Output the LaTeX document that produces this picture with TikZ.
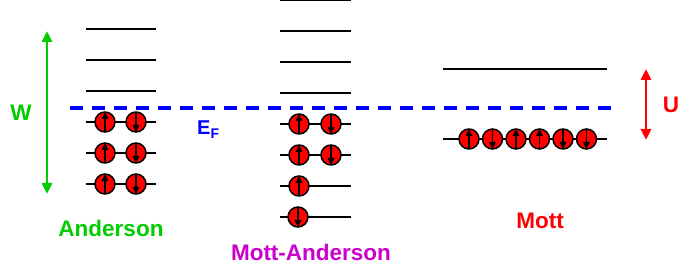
\documentclass[tikz,border=0pt]{standalone}
\usepackage{fontspec}
\setmainfont{Liberation Sans}
\usetikzlibrary{arrows.meta}
\definecolor{agreen}{RGB}{0,204,0}
\definecolor{amag}{RGB}{204,0,204}
\definecolor{ablue}{RGB}{0,0,255}
\definecolor{ared}{RGB}{255,0,0}
\tikzset{
  lvline/.style={line width=2pt, black},
  elec/.style={circle, draw=black, line width=1.5pt, fill=ared, minimum size=20pt, inner sep=0pt},
  lbl/.style={font=\fontsize{22.5}{26}\selectfont\bfseries, inner sep=0pt},
  fermi/.style={ablue, line width=3.3pt, dash pattern=on 13pt off 9pt},
  spanarrow/.style={line width=2.8pt, {Triangle[length=11pt,width=10pt]}-{Triangle[length=11pt,width=10pt]}},
  spinarr/.style={line width=1.6pt, -{Triangle[length=7pt,width=6.5pt]}}
}
\newcommand{\up}[2]{\node[elec] (#1) at #2 {};
  \draw[spinarr] ([yshift=-10pt]#1.center) -- ([yshift=10pt]#1.center);}
\newcommand{\dn}[2]{\node[elec] (#1) at #2 {};
  \draw[spinarr] ([yshift=10pt]#1.center) -- ([yshift=-10pt]#1.center);}
\begin{document}
\begin{tikzpicture}[x=1pt,y=-1pt]
\useasboundingbox (0,0) rectangle (691,272);
% Anderson levels
\foreach \y [count=\i] in {29,60,91,122,153,184}{
  \coordinate (al\i a) at (86,\y); \coordinate (al\i b) at (156,\y);
  \draw[lvline] (al\i a) -- (al\i b);}
\foreach \y [count=\i] in {122,153,184}{
  \up{au\i}{(105,\y)} \dn{ad\i}{(136,\y)}}
% Mott-Anderson levels
\foreach \y [count=\i] in {0.5,31,62,93,124,155,186,217}{
  \coordinate (ml\i a) at (280,\y); \coordinate (ml\i b) at (351,\y);
  \draw[lvline] (ml\i a) -- (ml\i b);}
\up{mu1}{(299,124)} \dn{md1}{(331,124)}
\up{mu2}{(299,155)} \dn{md2}{(331,155)}
\up{mu3}{(299,186)}
\dn{md4}{(298,217)}
% Mott levels
\coordinate (t1) at (443,69); \coordinate (t2) at (607,69);
\draw[lvline] (t1) -- (t2);
\coordinate (b1) at (443,139); \coordinate (b2) at (607,139);
\draw[lvline] (b1) -- (b2);
\up{s1}{(469,139)} \dn{s2}{(492.5,139)} \up{s3}{(516,139)}
\up{s4}{(539.5,139)} \dn{s5}{(563,139)} \dn{s6}{(586.5,139)}
% Fermi level
\coordinate (f1) at (70,108); \coordinate (f2) at (613,108);
\draw[fermi] (f1) -- (f2);
% W arrow
\coordinate (w1) at (47,31); \coordinate (w2) at (47,194);
\draw[spanarrow, agreen] (w1) -- (w2);
\node[lbl, agreen] (W) at (21,113) {W};
% U arrow
\coordinate (u1) at (646,69); \coordinate (u2) at (646,140);
\draw[spanarrow, ared] (u1) -- (u2);
\node[lbl, ared] (U) at (671,105) {U};
% labels
\node[ablue, font=\fontsize{20}{24}\selectfont\bfseries, anchor=base west, inner sep=0pt] (EF) at (197,135) {E\textsubscript{F}};
\node[lbl, agreen] (And) at (111,228) {Anderson};
\node[lbl, amag] (MA) at (311,252) {Mott-Anderson};
\node[lbl, ared] (Mott) at (540,221) {Mott};
\end{tikzpicture}
\end{document}
